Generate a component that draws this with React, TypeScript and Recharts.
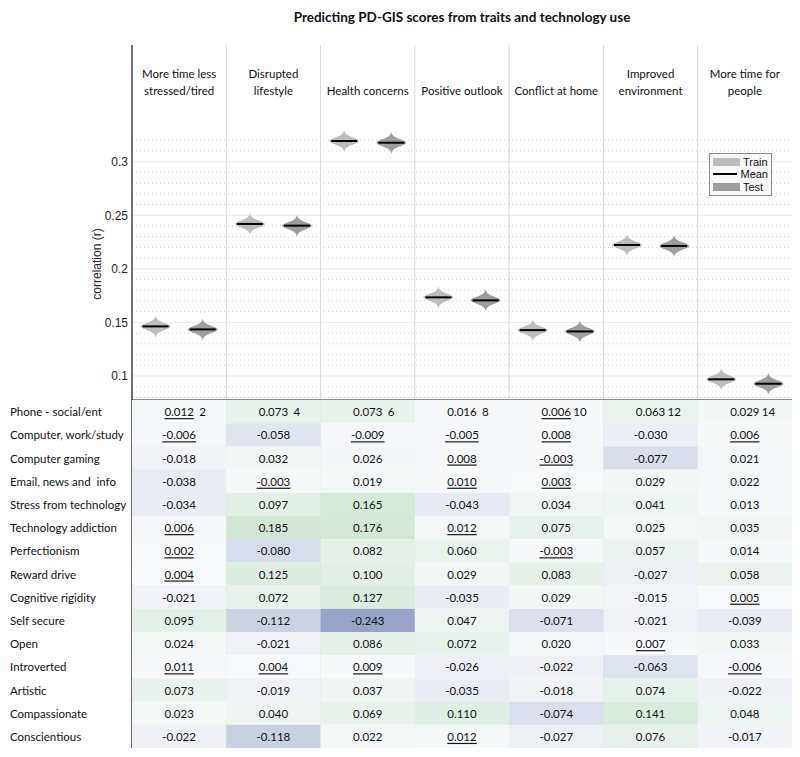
import React from "react";
import { ComposedChart, ScatterChart, Scatter, XAxis, YAxis, ReferenceLine, Legend } from "recharts";

const outcomeLabels: string[][] = [
  ["More time less", "stressed/tired"],
  ["Disrupted", "lifestyle"],
  ["Health concerns"],
  ["Positive outlook"],
  ["Conflict at home"],
  ["Improved", "environment"],
  ["More time for", "people"],
];

const trainMean = [0.1463, 0.2419, 0.3193, 0.1734, 0.1428, 0.2223, 0.0969];
const testMean = [0.1435, 0.2403, 0.3177, 0.1706, 0.1416, 0.2214, 0.0928];

const majorTicks = [0.1, 0.15, 0.2, 0.25, 0.3];
const minorTicks = [
  0.08, 0.09, 0.11, 0.12, 0.13, 0.14, 0.16, 0.17, 0.18, 0.19,
  0.21, 0.22, 0.23, 0.24, 0.26, 0.27, 0.28, 0.29, 0.31, 0.32,
];

const predictors = [
  "Phone - social/ent",
  "Computer, work/study",
  "Computer gaming",
  "Email, news and  info",
  "Stress from technology",
  "Technology addiction",
  "Perfectionism",
  "Reward drive",
  "Cognitive rigidity",
  "Self secure",
  "Open",
  "Introverted",
  "Artistic",
  "Compassionate",
  "Conscientious",
];

const cellValues: number[][] = [
  [0.012, 0.073, 0.073, 0.016, 0.006, 0.063, 0.029],
  [-0.006, -0.058, -0.009, -0.005, 0.008, -0.03, 0.006],
  [-0.018, 0.032, 0.026, 0.008, -0.003, -0.077, 0.021],
  [-0.038, -0.003, 0.019, 0.01, 0.003, 0.029, 0.022],
  [-0.034, 0.097, 0.165, -0.043, 0.034, 0.041, 0.013],
  [0.006, 0.185, 0.176, 0.012, 0.075, 0.025, 0.035],
  [0.002, -0.08, 0.082, 0.06, -0.003, 0.057, 0.014],
  [0.004, 0.125, 0.1, 0.029, 0.083, -0.027, 0.058],
  [-0.021, 0.072, 0.127, -0.035, 0.029, -0.015, 0.005],
  [0.095, -0.112, -0.243, 0.047, -0.071, -0.021, -0.039],
  [0.024, -0.021, 0.086, 0.072, 0.02, 0.007, 0.033],
  [0.011, 0.004, 0.009, -0.026, -0.022, -0.063, -0.006],
  [0.073, -0.019, 0.037, -0.035, -0.018, 0.074, -0.022],
  [0.023, 0.04, 0.069, 0.11, -0.074, 0.141, 0.048],
  [-0.022, -0.118, 0.022, 0.012, -0.027, 0.076, -0.017],
];

// numbers shown after the first row's values
const modelCounts = [2, 4, 6, 8, 10, 12, 14];

const Y_DOMAIN: [number, number] = [0.0776, 0.4089];
const PLOT_W = 660;
const PLOT_H = 348;
const CELL_W = PLOT_W / outcomeLabels.length;
const CELL_H = PLOT_H / predictors.length;
const TABLE_FONT = "Lato, 'Open Sans', sans-serif";
const AXIS_FONT = "'Liberation Sans', Arial, sans-serif";

const trainData = trainMean.map((y, i) => ({ x: i + 0.25, y }));
const testData = testMean.map((y, i) => ({ x: i + 0.75, y }));
const cellData = cellValues.flatMap((row, r) =>
  row.map((v, c) => ({ x: c + 0.5, y: r + 0.5, v, n: r === 0 ? modelCounts[c] : null }))
);

function violinPath(cx: number, cy: number) {
  const right: string[] = [];
  const left: string[] = [];
  for (let dy = -10.5; dy <= 11.01; dy += 0.5) {
    const w = 14 * Math.exp(-(dy * dy) / (2 * 3.4 * 3.4)) + 1.0 * (1 - Math.abs(dy) / 11);
    right.push(`${(cx + w).toFixed(2)},${(cy + dy).toFixed(2)}`);
    left.unshift(`${(cx - w).toFixed(2)},${(cy + dy).toFixed(2)}`);
  }
  return `M${right.join(" L")} L${left.join(" L")} Z`;
}

function Violin(props: any) {
  const { cx, cy, fill } = props;
  if (cx == null || cy == null) return null;
  return (
    <g>
      <path d={violinPath(cx, cy)} fill={fill} />
      <line x1={cx - 13} x2={cx + 13} y1={cy} y2={cy} stroke="#000" strokeWidth={2} />
    </g>
  );
}

function HeaderTick(props: any) {
  const { x, payload } = props;
  const lines = outcomeLabels[Math.floor(payload.value)] || [];
  const ys = lines.length === 2 ? [73, 90] : [90];
  return (
    <g>
      {lines.map((t, i) => (
        <text
          key={t}
          x={x}
          y={ys[i]}
          textAnchor="middle"
          dominantBaseline="central"
          fontFamily={TABLE_FONT}
          fontSize={11.5}
          fill="#111"
        >
          {t}
        </text>
      ))}
    </g>
  );
}

function LegendBox() {
  const row = { display: "flex", alignItems: "center", height: 12.3 };
  return (
    <div
      style={{
        border: "1px solid #8c8c8c",
        background: "#f8f8f8",
        padding: "2px 3px 2px 3px",
        fontFamily: AXIS_FONT,
        fontSize: 11,
        color: "#111",
        width: 55,
        lineHeight: "12px",
      }}
    >
      <div style={row}>
        <span style={{ width: 27, height: 8, background: "#bdbdbd", marginRight: 3 }} />
        Train
      </div>
      <div style={row}>
        <span style={{ width: 27, height: 2, background: "#000", marginRight: 3 }} />
        Mean
      </div>
      <div style={row}>
        <span style={{ width: 27, height: 8, background: "#9e9e9e", marginRight: 3 }} />
        Test
      </div>
    </div>
  );
}

function cellFill(v: number) {
  const t = Math.min(Math.abs(v) / 0.243, 1);
  const base = [248, 249, 251];
  const end = v >= 0 ? [197, 225, 202] : [152, 165, 201];
  const c = base.map((b, i) => Math.round(b + (end[i] - b) * t));
  return `rgb(${c[0]},${c[1]},${c[2]})`;
}

function TableCell(props: any) {
  const { cx, cy, payload } = props;
  if (cx == null || cy == null) return null;
  const v: number = payload.v;
  const faint = Math.abs(v) < 0.0125;
  return (
    <g>
      <rect x={cx - CELL_W / 2} y={cy - CELL_H / 2} width={CELL_W} height={CELL_H} fill={cellFill(v)} />
      <text
        x={cx}
        y={cy}
        textAnchor="middle"
        dominantBaseline="central"
        fontFamily={TABLE_FONT}
        fontSize={11.5}
        fill="#111"
        style={{ textDecoration: faint ? "underline" : "none" }}
      >
        {v.toFixed(3)}
      </text>
      {payload.n != null && (
        <text
          x={cx + 17 + (payload.n < 10 ? 3 : 0)}
          y={cy}
          textAnchor="start"
          dominantBaseline="central"
          fontFamily={TABLE_FONT}
          fontSize={11.5}
          fill="#111"
        >
          {payload.n}
        </text>
      )}
    </g>
  );
}

function RowTick(props: any) {
  const { y, payload } = props;
  const label = predictors[Math.floor(payload.value)];
  return (
    <text
      x={10}
      y={y}
      textAnchor="start"
      dominantBaseline="central"
      fontFamily={TABLE_FONT}
      fontSize={11.5}
      fill="#111"
      style={{ whiteSpace: "pre" }}
    >
      {label}
    </text>
  );
}

const colCenters = outcomeLabels.map((_, i) => i + 0.5);
const colBounds = outcomeLabels.slice(1).map((_, i) => i + 1);
const rowCenters = predictors.map((_, i) => i + 0.5);

export default function App() {
  return (
    <div style={{ position: "absolute", left: 0, top: 0, width: 800, height: 757, background: "#fff" }}>
      <div
        style={{
          position: "absolute",
          left: 132,
          top: 9,
          width: PLOT_W,
          textAlign: "center",
          fontFamily: TABLE_FONT,
          fontWeight: 700,
          fontSize: 13.5,
          color: "#111",
        }}
      >
        Predicting PD-GIS scores from traits and technology use
      </div>

      <div style={{ position: "absolute", left: 0, top: 0 }}>
        <ComposedChart width={800} height={400} margin={{ top: 44, right: 8, bottom: 0, left: 72 }}>
          <XAxis
            type="number"
            dataKey="x"
            orientation="top"
            domain={[0, 7]}
            ticks={colCenters}
            interval={0}
            height={1}
            axisLine={false}
            tickLine={false}
            tick={<HeaderTick />}
          />
          <YAxis
            type="number"
            dataKey="y"
            domain={Y_DOMAIN}
            allowDataOverflow
            ticks={majorTicks}
            width={60}
            tickLine={false}
            tickSize={0}
            tickMargin={4}
            axisLine={{ stroke: "#222", strokeWidth: 1.3 }}
            tick={{ fontFamily: AXIS_FONT, fontSize: 12, fill: "#262626" }}
            tickFormatter={(v: number) => String(v)}
            label={{
              content: () => (
                <text
                  x={97}
                  y={264}
                  transform="rotate(-90 97 264)"
                  textAnchor="middle"
                  dominantBaseline="central"
                  fontFamily={AXIS_FONT}
                  fontSize={12}
                  fill="#262626"
                >
                  correlation (r)
                </text>
              ),
            }}
          />
          {minorTicks.map((t) => (
            <ReferenceLine key={`m${t}`} y={t} stroke="#cfcfcf" strokeDasharray="1 3" />
          ))}
          {majorTicks.map((t) => (
            <ReferenceLine key={`M${t}`} y={t} stroke="#e8e8e8" />
          ))}
          {colBounds.map((b) => (
            <ReferenceLine key={`c${b}`} x={b} stroke="#d8d8d8" />
          ))}
          <ReferenceLine y={Y_DOMAIN[0]} stroke="#6a6a6a" strokeWidth={1.5} />
          <Scatter
            name="Train"
            data={trainData}
            isAnimationActive={false}
            shape={(p: any) => <Violin {...p} fill="#bdbdbd" />}
          />
          <Scatter
            name="Test"
            data={testData}
            isAnimationActive={false}
            shape={(p: any) => <Violin {...p} fill="#9e9e9e" />}
          />
          <Legend
            layout="vertical"
            align="center"
            verticalAlign="middle"
            content={<LegendBox />}
            wrapperStyle={{ position: "absolute", left: 709, top: 153, width: "auto" }}
          />
        </ComposedChart>
      </div>

      <div style={{ position: "absolute", left: 0, top: 400 }}>
        <ScatterChart width={800} height={357} margin={{ top: 0, right: 8, bottom: 9, left: 0 }}>
          <XAxis type="number" dataKey="x" domain={[0, 7]} hide />
          <YAxis
            type="number"
            dataKey="y"
            domain={[0, 15]}
            reversed
            ticks={rowCenters}
            interval={0}
            width={132}
            tickLine={false}
            axisLine={{ stroke: "#222", strokeWidth: 1.3 }}
            tick={<RowTick />}
          />
          <Scatter data={cellData} isAnimationActive={false} shape={(p: any) => <TableCell {...p} />} />
          {colBounds.map((b) => (
            <ReferenceLine key={`t${b}`} x={b} stroke="#dcdcdc" />
          ))}
        </ScatterChart>
      </div>
    </div>
  );
}
